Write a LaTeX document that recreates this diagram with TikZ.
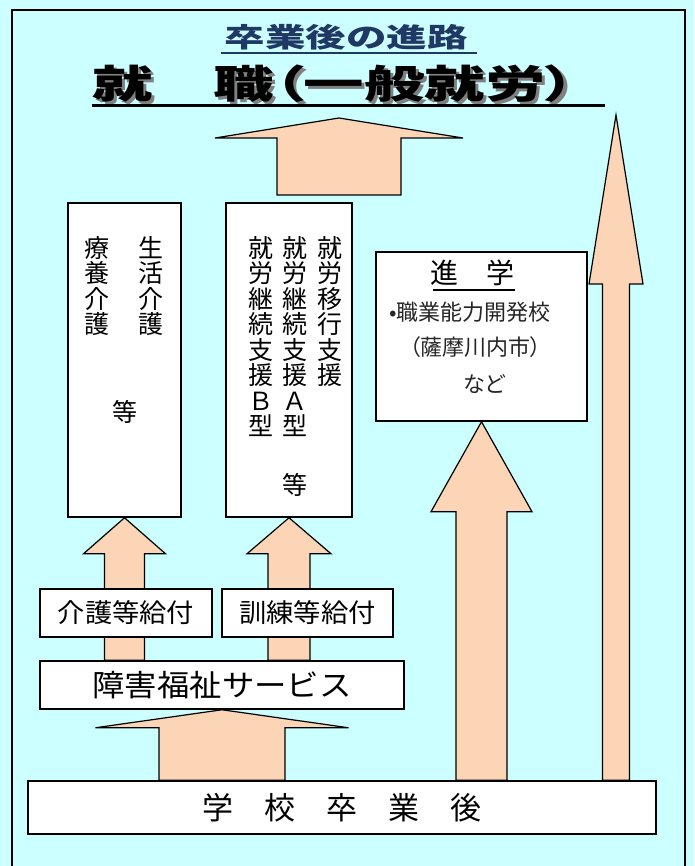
\documentclass[tikz,border=0pt]{standalone}
\usepackage{fontspec}
\setmainfont{Noto Sans CJK JP}
\newfontfamily\jpalt[RawFeature=+palt]{Noto Sans CJK JP}
\usetikzlibrary{calc,positioning}
\definecolor{skyback}{HTML}{CCFFFF}
\definecolor{peach}{HTML}{FBD5B5}
\definecolor{navy}{HTML}{1F3864}
\pgfdeclarelayer{arrows}
\pgfsetlayers{arrows,main}
\tikzset{
	box/.style={draw, line width=1.5pt, fill=white, inner sep=0pt},
	fat/.style={draw, fill=peach, line width=1.2pt, line join=miter},
	vcol/.style={align=center, anchor=north, inner sep=0pt, font=\fontsize{25}{25.5}\selectfont},
	boxtext/.style={inner sep=0pt, font=\jpalt\fontsize{22}{22}\selectfont, text=black!85},
}
% block arrow: bottom, tip, shaft half width, head half width, head length
\newcommand{\fatarrow}[5]{%
	\filldraw[fat] ($(#1)+(-#3,0)$) -- ($(#2)+(-#3,#5)$) -- ($(#2)+(-#4,#5)$) -- (#2)
		-- ($(#2)+(#4,#5)$) -- ($(#2)+(#3,#5)$) -- ($(#1)+(#3,0)$) -- cycle;
}
% text with a gray shadow behind it
\newcommand{\shadowed}[1]{\rlap{\hspace*{2pt}\raisebox{-3pt}{\textcolor{gray}{#1}}}#1}

\begin{document}
\begin{tikzpicture}[x=1pt,y=-1pt]
	\useasboundingbox (0,0) rectangle (694,866);

	% titles
	\node[inner sep=0pt, text=navy, font=\bfseries\fontsize{27}{27}\selectfont] (course) at (346,37) {\scalebox{1.5}[1]{卒業後の進路}};
	\draw[navy, line width=2pt] (221,53) -- (477,53);
	\node[inner sep=0pt, font=\jpalt\bfseries\fontsize{39}{39}\selectfont] (job) at (334,85) {\scalebox{1.55}[1]{\shadowed{就　職（一般就労）}}};
	\draw[line width=3pt] (92,106) -- (605,106);

	% boxes
	\node[box, minimum width=628pt, minimum height=53pt, font=\fontsize{31}{31}\selectfont] (gakko) at (342,807.5) {学　校　卒　業　後};
	\node[box, minimum width=364pt, minimum height=48pt, font=\fontsize{30}{30}\selectfont] (shogai) at (222,685) {\scalebox{1.08}[1]{障害福祉サービス}};
	\node[box, minimum width=172pt, minimum height=48pt, font=\fontsize{26}{26}\selectfont] (kaigo) at (126,613) {\scalebox{1.05}[1]{介護等給付}};
	\node[box, minimum width=171pt, minimum height=48pt, font=\fontsize{26}{26}\selectfont] (kunren) at (307.5,613) {\scalebox{1.05}[1]{訓練等給付}};
	\node[box, minimum width=113pt, minimum height=314pt] (box1) at (124.5,360) {};
	\node[box, minimum width=126pt, minimum height=314pt] (box2) at (289,360) {};
	\node[box, minimum width=211pt, minimum height=169pt] (box3) at (481.5,336.5) {};

	% texts in the tall boxes
	\node[vcol] (seikatsu) at (150.5,236) {生\\活\\介\\護};
	\node[vcol] (ryoyo) at (96.5,236) {療\\養\\介\\護};
	\node[inner sep=0pt, font=\fontsize{25}{25}\selectfont] (etc1) at (125,412) {等};
	\node[vcol] (ikou) at (329.5,236) {就\\労\\移\\行\\支\\援};
	\node[vcol] (keizokuA) at (295,236) {就\\労\\継\\続\\支\\援\\Ａ\\型};
	\node[vcol] (keizokuB) at (260.5,236) {就\\労\\継\\続\\支\\援\\Ｂ\\型};
	\node[inner sep=0pt, font=\fontsize{25}{25}\selectfont] (etc2) at (295,484.5) {等};

	% further study
	\node[inner sep=0pt, font=\fontsize{28}{28}\selectfont] (shingaku) at (472,272.5) {進　学};
	\draw[line width=2pt] (433,290) -- (515,290);
	\node[boxtext] (shin1) at (470,312.5) {•職業能力開発校};
	\node[boxtext] (shin2) at (475.5,347.5) {（薩摩川内市）};
	\node[boxtext] (shin3) at (484,384.5) {など};

	\coordinate (jobTip) at (339,118);
	\coordinate (jobBase) at (339,195);
	\coordinate (tallTip) at (616,115);

	\begin{pgfonlayer}{arrows}
		\fill[skyback] (0,0) rectangle (694,866);
		\fatarrow{jobBase}{jobTip}{62}{124}{20}
		\fatarrow{shogai.south |- gakko.north}{shogai.south}{63}{126.5}{18}
		\fatarrow{box1.south |- shogai.north}{box1.south}{20}{41}{36}
		\fatarrow{box2.south |- shogai.north}{box2.south}{21}{42}{36}
		\fatarrow{box3.south |- gakko.north}{box3.south}{25.5}{50.5}{90}
		\fatarrow{tallTip |- gakko.north}{tallTip}{13.5}{27}{169}
	\end{pgfonlayer}

	\draw[line width=2.5pt] (12,10) rectangle (685,880);
\end{tikzpicture}
\end{document}
